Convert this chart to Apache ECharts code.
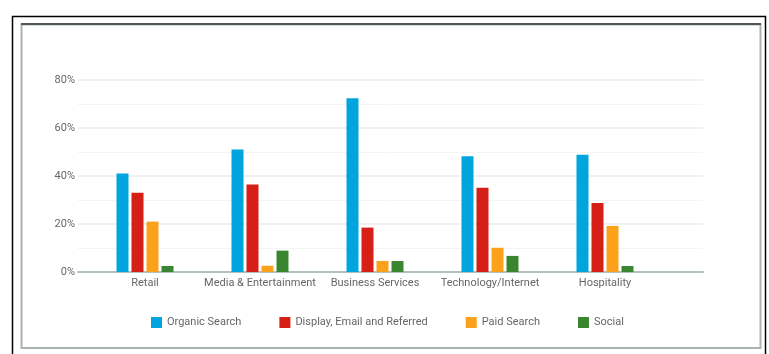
<!DOCTYPE html>
<html><head><meta charset="utf-8">
<script src="https://cdn.jsdelivr.net/npm/echarts@6/dist/echarts.min.js"></script>
<style>html,body{margin:0;padding:0;background:#fff}#c{width:769px;height:354px}</style>
</head><body><div id="c"></div>
<script>
const categories = ['Retail', 'Media & Entertainment', 'Business Services', 'Technology/Internet', 'Hospitality'];
const seriesNames = ['Organic Search', 'Display, Email and Referred', 'Paid Search', 'Social'];
const organic = [41, 51, 72.4, 48.2, 48.9];
const display = [33, 36.5, 18.5, 35.1, 28.7];
const paid = [21, 2.6, 4.6, 10.1, 19.2];
const social = [2.5, 8.9, 4.6, 6.7, 2.5];
const yTicks = [0, 20, 40, 60, 80];
const colors = ['#00a5de', '#d61f16', '#fba11c', '#3a8630'];
const FONT = 'Roboto, "Noto Sans", sans-serif';

const chart = echarts.init(document.getElementById('c'), null, {renderer: 'canvas'});
const values = [organic, display, paid, social];
chart.setOption({
  animation: false,
  color: colors,
  graphic: [
    {type: 'rect', shape: {x: 12.5, y: 16.5, width: 753, height: 360}, style: {fill: 'none', stroke: '#000', lineWidth: 1.5}, silent: true, z: 0},
    {type: 'rect', shape: {x: 21.5, y: 24.5, width: 739, height: 323.5}, style: {fill: 'none', stroke: '#a9b3b1', lineWidth: 2}, silent: true, z: 0},
    {type: 'line', shape: {x1: 21, y1: 24, x2: 761, y2: 24}, style: {stroke: '#50575a', lineWidth: 2}, silent: true, z: 1}
  ],
  legend: {
    left: 146, top: 312,
    icon: 'rect', itemWidth: 11, itemHeight: 11, itemGap: 38,
    textStyle: {fontFamily: FONT, fontSize: 11, color: '#666'},
    data: seriesNames
  },
  grid: [
    {left: 78, right: 66, top: 80, bottom: 82},
    {left: 87.5, right: 106.5, top: 80, bottom: 82}
  ],
  xAxis: [
    {type: 'value', gridIndex: 0, min: 0, max: 1,
     axisLine: {show: true, onZero: false, lineStyle: {color: '#b3c0bb', width: 2}},
     axisTick: {show: false}, axisLabel: {show: false}, splitLine: {show: false}},
    {type: 'category', gridIndex: 1, data: categories,
     axisLine: {show: false}, axisTick: {show: false},
     axisLabel: {interval: 0, fontFamily: FONT, fontSize: 11, color: '#666', margin: 6}}
  ],
  yAxis: [
    {type: 'value', gridIndex: 0, min: yTicks[0], max: yTicks[yTicks.length - 1], interval: 20,
     axisLine: {show: false}, axisTick: {show: false},
     axisLabel: {formatter: '{value}%', fontFamily: FONT, fontSize: 11, color: '#666', margin: 3},
     splitLine: {show: true, lineStyle: {color: '#ececec', width: 1.5}},
     minorTick: {show: false, splitNumber: 2},
     minorSplitLine: {show: true, lineStyle: {color: '#f4f4f4', width: 1}}},
    {type: 'value', gridIndex: 1, min: yTicks[0], max: yTicks[yTicks.length - 1], show: false}
  ],
  series: seriesNames.map((n, i) => ({
    name: n, type: 'bar', xAxisIndex: 1, yAxisIndex: 1,
    data: values[i], barWidth: 12, barGap: '25%',
    itemStyle: {color: colors[i]}
  }))
});
</script></body></html>
